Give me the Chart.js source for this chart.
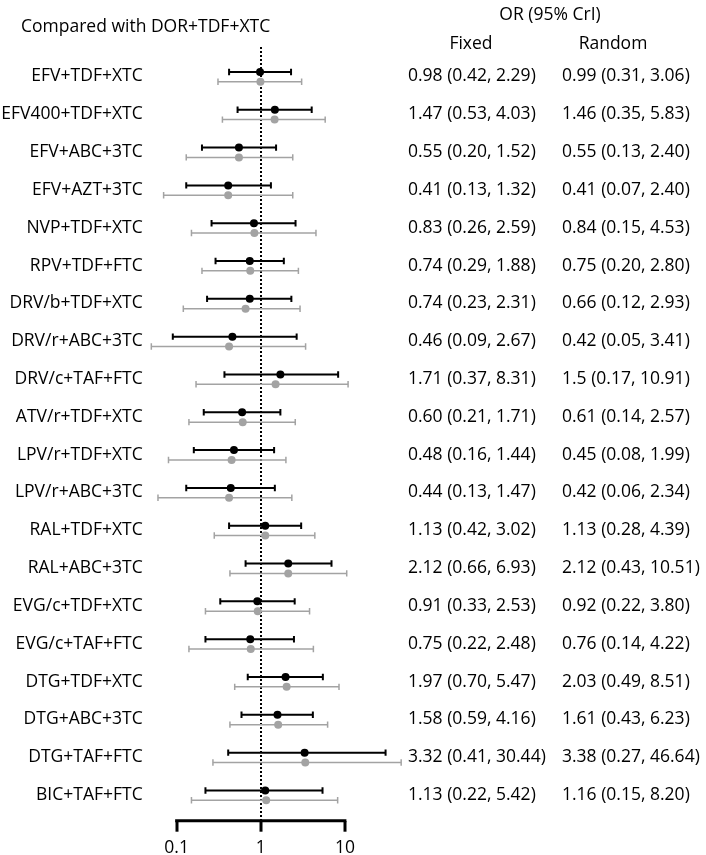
<!DOCTYPE html>
<html>
<head>
<meta charset="utf-8">
<script src="https://cdn.jsdelivr.net/npm/chart.js"></script>
<style>
  body { margin: 0; background: #fff; }
  #wrap { position: relative; width: 706px; height: 855px; font-family: 'Open Sans', sans-serif; font-size: 17.5px; color: #000; }
  #wrap canvas { position: absolute; left: 0; top: 0; }
  .hd { position: absolute; white-space: nowrap; line-height: 1; }
  .c { transform: translate(-50%, -50%); }
  .l { transform: translateY(-50%); }
</style>
</head>
<body>
<div id="wrap">
  <canvas id="forest" width="706" height="855"></canvas>
  <div class="hd l" style="left:21px; top:26px;">Compared with DOR+TDF+XTC</div>
  <div class="hd c" style="left:550px; top:14px;">OR (95% CrI)</div>
  <div class="hd c" style="left:471px; top:43px;">Fixed</div>
  <div class="hd c" style="left:613px; top:43px;">Random</div>
</div>
<script>
const regimens = ['EFV+TDF+XTC', 'EFV400+TDF+XTC', 'EFV+ABC+3TC', 'EFV+AZT+3TC', 'NVP+TDF+XTC',
  'RPV+TDF+FTC', 'DRV/b+TDF+XTC', 'DRV/r+ABC+3TC', 'DRV/c+TAF+FTC', 'ATV/r+TDF+XTC',
  'LPV/r+TDF+XTC', 'LPV/r+ABC+3TC', 'RAL+TDF+XTC', 'RAL+ABC+3TC', 'EVG/c+TDF+XTC',
  'EVG/c+TAF+FTC', 'DTG+TDF+XTC', 'DTG+ABC+3TC', 'DTG+TAF+FTC', 'BIC+TAF+FTC'];

// fixed effects model
const fixedOR = [0.98, 1.47, 0.55, 0.41, 0.83, 0.74, 0.74, 0.46, 1.71, 0.60, 0.48, 0.44, 1.13, 2.12, 0.91, 0.75, 1.97, 1.58, 3.32, 1.13];
const fixedLo = [0.42, 0.53, 0.20, 0.13, 0.26, 0.29, 0.23, 0.09, 0.37, 0.21, 0.16, 0.13, 0.42, 0.66, 0.33, 0.22, 0.70, 0.59, 0.41, 0.22];
const fixedHi = [2.29, 4.03, 1.52, 1.32, 2.59, 1.88, 2.31, 2.67, 8.31, 1.71, 1.44, 1.47, 3.02, 6.93, 2.53, 2.48, 5.47, 4.16, 30.44, 5.42];

// random effects model
const randomOR = [0.99, 1.46, 0.55, 0.41, 0.84, 0.75, 0.66, 0.42, 1.5, 0.61, 0.45, 0.42, 1.13, 2.12, 0.92, 0.76, 2.03, 1.61, 3.38, 1.16];
const randomLo = [0.31, 0.35, 0.13, 0.07, 0.15, 0.20, 0.12, 0.05, 0.17, 0.14, 0.08, 0.06, 0.28, 0.43, 0.22, 0.14, 0.49, 0.43, 0.27, 0.15];
const randomHi = [3.06, 5.83, 2.40, 2.40, 4.53, 2.80, 2.93, 3.41, 10.91, 2.57, 1.99, 2.34, 4.39, 10.51, 3.80, 4.22, 8.51, 6.23, 46.64, 8.20];

// text columns on the right, as printed
const fixedText = ['0.98 (0.42, 2.29)', '1.47 (0.53, 4.03)', '0.55 (0.20, 1.52)', '0.41 (0.13, 1.32)', '0.83 (0.26, 2.59)',
  '0.74 (0.29, 1.88)', '0.74 (0.23, 2.31)', '0.46 (0.09, 2.67)', '1.71 (0.37, 8.31)', '0.60 (0.21, 1.71)',
  '0.48 (0.16, 1.44)', '0.44 (0.13, 1.47)', '1.13 (0.42, 3.02)', '2.12 (0.66, 6.93)', '0.91 (0.33, 2.53)',
  '0.75 (0.22, 2.48)', '1.97 (0.70, 5.47)', '1.58 (0.59, 4.16)', '3.32 (0.41, 30.44)', '1.13 (0.22, 5.42)'];
const randomText = ['0.99 (0.31, 3.06)', '1.46 (0.35, 5.83)', '0.55 (0.13, 2.40)', '0.41 (0.07, 2.40)', '0.84 (0.15, 4.53)',
  '0.75 (0.20, 2.80)', '0.66 (0.12, 2.93)', '0.42 (0.05, 3.41)', '1.5 (0.17, 10.91)', '0.61 (0.14, 2.57)',
  '0.45 (0.08, 1.99)', '0.42 (0.06, 2.34)', '1.13 (0.28, 4.39)', '2.12 (0.43, 10.51)', '0.92 (0.22, 3.80)',
  '0.76 (0.14, 4.22)', '2.03 (0.49, 8.51)', '1.61 (0.43, 6.23)', '3.38 (0.27, 46.64)', '1.16 (0.15, 8.20)'];

const xTicks = [0.1, 1, 10];

const BLACK = '#000000';
const GREY = '#a3a3a3';

Chart.defaults.font.family = "'Open Sans', sans-serif";
Chart.defaults.font.size = 17.5;
Chart.defaults.color = '#000';

// row axis range (rows 0..19, reversed so first row is on top)
const yMin = -0.78;
const yMax = 19.68;
const offFixed = -0.12;
const offRandom = 0.14;

// one line per interval, caps drawn as rotated line points
const datasets = [];
const addIntervals = (lo, hi, off, color, width) => {
  lo.forEach((v, i) => {
    datasets.push({
      type: 'scatter',
      data: [{ x: v, y: i + off }, { x: hi[i], y: i + off }],
      showLine: true,
      borderColor: color,
      borderWidth: width,
      pointStyle: 'line',
      rotation: 90,
      pointRadius: 3.2,
      pointHoverRadius: 3.2,
      pointBorderColor: color,
      pointBorderWidth: width,
      order: 2
    });
  });
};
addIntervals(randomLo, randomHi, offRandom, GREY, 1.5);
addIntervals(fixedLo, fixedHi, offFixed, BLACK, 2);

datasets.push({
  type: 'scatter',
  data: randomOR.map((v, i) => ({ x: v, y: i + offRandom })),
  pointRadius: 4,
  pointHoverRadius: 4,
  backgroundColor: GREY,
  borderWidth: 0,
  order: 1
});
datasets.push({
  type: 'scatter',
  data: fixedOR.map((v, i) => ({ x: v, y: i + offFixed })),
  pointRadius: 4,
  pointHoverRadius: 4,
  backgroundColor: BLACK,
  borderWidth: 0,
  order: 0
});

// horizontal bar of the bracket-shaped x axis (0.1 to 10 only)
const axisBracket = {
  id: 'axisBracket',
  afterDraw(chart) {
    const { ctx, chartArea } = chart;
    const x = chart.scales.x;
    const x0 = x.getPixelForValue(xTicks[0]);
    const x1 = x.getPixelForValue(xTicks[xTicks.length - 1]);
    ctx.save();
    ctx.strokeStyle = BLACK;
    ctx.lineWidth = 3;
    ctx.beginPath();
    ctx.moveTo(x0 - 1.5, chartArea.bottom);
    ctx.lineTo(x1 + 1.5, chartArea.bottom);
    ctx.stroke();
    ctx.restore();
  }
};

const rowAxis = (position, labels, width, padding, weight) => ({
  type: 'linear',
  position: position,
  weight: weight,
  min: yMin,
  max: yMax,
  reverse: true,
  grid: { display: false, drawTicks: false },
  border: { display: false },
  ticks: { padding: padding, autoSkip: false, callback: v => labels[v] },
  afterBuildTicks: s => { s.ticks = labels.map((_, i) => ({ value: i })); },
  afterFit: s => { s.width = width; }
});

new Chart(document.getElementById('forest'), {
  type: 'scatter',
  data: { datasets: datasets },
  options: {
    responsive: false,
    animation: false,
    layout: { padding: { top: 47, left: 0, right: 0, bottom: 0 } },
    plugins: { legend: { display: false }, tooltip: { enabled: false } },
    scales: {
      x: {
        type: 'logarithmic',
        bounds: 'data',
        min: Math.pow(10, -1.35),
        max: Math.pow(10, 1.75),
        afterBuildTicks: s => { s.ticks = xTicks.map(v => ({ value: v })); },
        ticks: { autoSkip: false, maxRotation: 0, padding: 6, callback: v => String(v) },
        grid: {
          // only the reference line at OR = 1 is visible
          color: c => (c.tick && c.tick.value === 1 ? BLACK : 'rgba(0,0,0,0)'),
          lineWidth: 2,
          drawTicks: true,
          tickLength: 11,
          tickColor: BLACK,
          tickWidth: 3,
          tickBorderDash: []
        },
        border: { display: false, dash: [2, 2] },
        afterFit: s => { s.height = 34.3; }
      },
      y: rowAxis('left', regimens, 147.2, 4.5, 0),
      yFixed: rowAxis('right', fixedText, 154, 0, 0),
      yRandom: rowAxis('right', randomText, 144, 0, 1)
    }
  },
  plugins: [axisBracket]
});
</script>
</body>
</html>
